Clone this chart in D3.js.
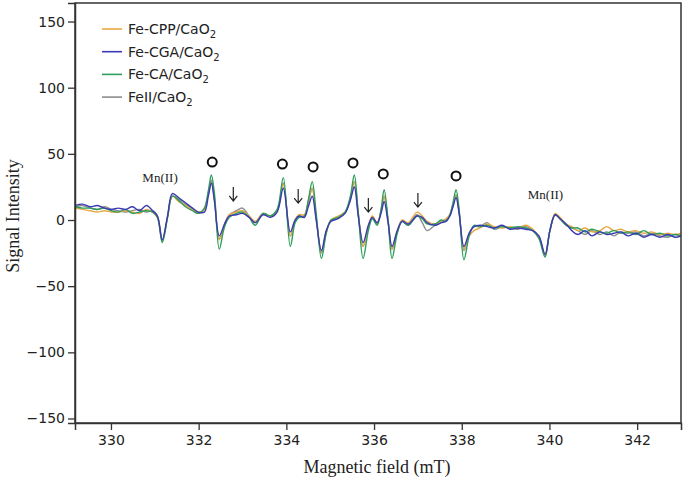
<!DOCTYPE html>
<html>
<head>
<meta charset="utf-8">
<script src="https://cdn.jsdelivr.net/npm/d3@7"></script>
<style>
  body { margin: 0; background: #fff; }
  svg { display: block; }
</style>
</head>
<body>
<div id="chart"></div>
<script>
// magnetic field (mT)
const field = [
  329.19, 329.35, 329.53, 329.69, 329.85, 330.01, 330.17, 330.33, 330.49, 330.65, 330.81, 330.95,
  331.06, 331.17, 331.29, 331.40, 331.54, 331.70, 331.86, 331.99, 332.13, 332.22, 332.29, 332.36,
  332.47, 332.59, 332.70, 332.86, 333.00, 333.15, 333.29, 333.47, 333.63, 333.79, 333.93, 334.09,
  334.20, 334.29, 334.41, 334.50, 334.59, 334.68, 334.80, 334.91, 335.02, 335.18, 335.34, 335.46,
  335.55, 335.64, 335.75, 335.87, 335.96, 336.07, 336.16, 336.23, 336.32, 336.41, 336.53, 336.64,
  336.78, 336.98, 337.10, 337.21, 337.39, 337.53, 337.64, 337.73, 337.80, 337.87, 337.94, 338.05,
  338.17, 338.28, 338.42, 338.58, 338.74, 338.92, 339.10, 339.28, 339.46, 339.62, 339.76, 339.90,
  340.01, 340.13, 340.24, 340.38, 340.51, 340.65, 340.81, 340.97, 341.15, 341.31, 341.47, 341.63,
  341.79, 341.97, 342.15, 342.33, 342.52, 342.70, 342.86, 343.00
];

// signal intensity of each sample
const feCPP = [
  9, 8, 7, 6, 7, 6, 6, 7, 6, 5, 8, 6,
  2, -15, 2, 18, 14, 11, 8, 6, 8, 20, 28, 16,
  -15, -3, 4, 6, 7, 3, -1, 5, 3, 7, 27, -12,
  0, 4, 4, 14, 24, 2, -24, -9, 0, 3, 6, 16,
  29, 5, -20, -5, 3, -2, 7, 18, -1, -22, -8, 0,
  -2, 6, 3, -1, -3, -1, 1, 4, 12, 18, 6, -22,
  -12, -8, -6, -3, -5, -6, -5, -6, -4, -7, -13, -26,
  -8, 5, 2, -3, -5, -8, -6, -9, -8, -5, -8, -7,
  -9, -8, -10, -9, -11, -10, -11, -10
];
const feCGA = [
  11, 12, 10, 11, 9, 8, 9, 8, 10, 7, 11, 7,
  3, -15, 3, 20, 17, 13, 9, 6, 6, 18, 28, 14,
  -12, -3, 3, 4, 5, 2, -2, 4, 2, 6, 24, -9,
  0, 3, 2, 10, 18, 0, -23, -8, -1, 1, 5, 15,
  25, 3, -17, -4, 2, -2, 5, 14, -2, -20, -8, -1,
  -3, 3, 2, -2, -4, -2, -1, 3, 10, 17, 5, -20,
  -10, -5, -4, -5, -6, -4, -7, -6, -7, -8, -12, -26,
  -8, 4, 1, -3, -8, -11, -8, -12, -9, -11, -10, -9,
  -12, -10, -13, -11, -13, -11, -13, -12
];
const feCA = [
  10, 9, 9, 8, 9, 7, 6, 8, 5, 6, 7, 6,
  2, -17, 2, 18, 15, 10, 7, 5, 9, 22, 34, 20,
  -22, -5, 2, 5, 6, 2, -4, 5, 3, 8, 32, -20,
  -2, 2, 3, 15, 29, 5, -29, -10, 0, 2, 6, 18,
  34, 5, -29, -8, 1, -4, 8, 23, 0, -29, -10, -1,
  -4, 3, 1, -3, -3, 0, -1, 4, 13, 23, 8, -30,
  -12, -4, -5, -4, -6, -5, -6, -5, -6, -8, -14, -28,
  -8, 4, 1, -4, -6, -6, -9, -7, -9, -10, -8, -10,
  -9, -11, -8, -11, -10, -12, -11, -12
];
const feII = [
  10, 11, 9, 8, 10, 8, 7, 6, 7, 8, 6, 7,
  3, -16, 2, 18, 16, 12, 8, 5, 8, 20, 30, 16,
  -14, -5, 4, 7, 9, 3, -2, 5, 3, 7, 28, -12,
  0, 3, 3, 13, 24, 2, -25, -9, 0, 2, 6, 16,
  29, 5, -20, -6, 2, -3, 7, 18, 0, -22, -9, -1,
  -4, 4, -2, -8, -4, -2, 0, 4, 11, 19, 6, -23,
  -10, -5, -5, -2, -7, -5, -6, -7, -5, -8, -13, -27,
  -8, 4, 1, -4, -6, -8, -11, -8, -11, -9, -12, -9,
  -10, -9, -12, -10, -12, -13, -11, -12
];

const xTicks = [330, 332, 334, 336, 338, 340, 342];
const yTicks = [-150, -100, -50, 0, 50, 100, 150];

// annotations (field, intensity)
const mnLabels = [[331.12, 28.7], [339.91, 15.9]];
const circles = [[332.31, 43.8], [333.91, 42.3], [334.61, 40.1], [335.52, 43.1], [336.21, 34.8], [337.87, 33.3]];
const arrows = [[332.79, 25, 14.4], [334.27, 23.4, 12.8], [335.87, 16.6, 6], [337.0, 20.4, 9.8]];

const series = [
  { name: "FeII", values: feII, color: "#8c8c8c" },
  { name: "Fe-CPP", values: feCPP, color: "#e8a845" },
  { name: "Fe-CA", values: feCA, color: "#2f9e5c" },
  { name: "Fe-CGA", values: feCGA, color: "#3a3ab4" }
];
const legendOrder = ["Fe-CPP", "Fe-CGA", "Fe-CA", "FeII"];

const width = 685;
const height = 485;
const margin = { top: 3, right: 4, bottom: 62, left: 75 };

const svg = d3
  .select("#chart")
  .append("svg")
  .attr("width", width)
  .attr("height", height);

const x = d3
  .scaleLinear()
  .domain([329.18, 343.0])
  .range([margin.left, width - margin.right]);

const y = d3
  .scaleLinear()
  .domain([-153.4, 164])
  .range([height - margin.bottom, margin.top]);

svg
  .append("clipPath")
  .attr("id", "plot")
  .append("rect")
  .attr("x", margin.left)
  .attr("y", margin.top)
  .attr("width", width - margin.left - margin.right)
  .attr("height", height - margin.top - margin.bottom);

// spectra
const line = d3
  .line()
  .x((d, i) => x(field[i]))
  .y(d => y(d))
  .curve(d3.curveCatmullRom.alpha(0.5));

svg
  .append("g")
  .attr("clip-path", "url(#plot)")
  .selectAll("path")
  .data(series)
  .enter()
  .append("path")
  .attr("d", d => line(d.values))
  .attr("fill", "none")
  .attr("stroke", d => d.color)
  .attr("stroke-width", 1.4);

// frame
svg
  .append("rect")
  .attr("x", margin.left)
  .attr("y", margin.top)
  .attr("width", width - margin.left - margin.right)
  .attr("height", height - margin.top - margin.bottom)
  .attr("fill", "none")
  .attr("stroke", "#333")
  .attr("stroke-width", 1.5);

const xAxis = svg
  .append("g")
  .attr("transform", `translate(0,${height - margin.bottom})`)
  .call(d3.axisBottom(x).tickValues(xTicks).tickSize(7).tickPadding(5));

const yAxis = svg
  .append("g")
  .attr("transform", `translate(${margin.left},0)`)
  .call(d3.axisLeft(y).tickValues(yTicks).tickSize(7).tickPadding(3));

[xAxis, yAxis].forEach(a => {
  a.select(".domain").attr("stroke", "#333").attr("stroke-width", 1.5);
  a.selectAll(".tick line").attr("stroke", "#333").attr("stroke-width", 1.3);
  a.selectAll(".tick text")
    .attr("font-family", "'DejaVu Sans', Verdana, sans-serif")
    .attr("font-size", "14px")
    .attr("fill", "#222");
});

// axis titles
svg
  .append("text")
  .attr("x", 377)
  .attr("y", 473)
  .attr("text-anchor", "middle")
  .attr("font-family", "'Liberation Serif', 'Times New Roman', serif")
  .attr("font-size", "18px")
  .attr("fill", "#222")
  .text("Magnetic field (mT)");

svg
  .append("text")
  .attr("transform", "translate(19,216) rotate(-90)")
  .attr("text-anchor", "middle")
  .attr("font-family", "'Liberation Serif', 'Times New Roman', serif")
  .attr("font-size", "18px")
  .attr("fill", "#222")
  .text("Signal Intensity");

// legend
const legend = svg
  .append("g")
  .selectAll("g")
  .data(legendOrder.map(n => series.find(s => s.name === n)))
  .enter()
  .append("g")
  .attr("transform", (d, i) => `translate(102,${29 + i * 22.7})`);

legend
  .append("line")
  .attr("x1", 0)
  .attr("x2", 20)
  .attr("stroke", d => d.color)
  .attr("stroke-width", 1.6);

const legendText = legend
  .append("text")
  .attr("x", 26)
  .attr("y", 5)
  .attr("font-family", "'DejaVu Sans', Verdana, sans-serif")
  .attr("font-size", "14px")
  .attr("fill", "#222");

legendText.append("tspan").text(d => d.name + "/CaO");
legendText.append("tspan").attr("dy", 4).attr("font-size", "10px").text("2");

// annotations
svg
  .selectAll(".mn")
  .data(mnLabels)
  .enter()
  .append("text")
  .attr("class", "mn")
  .attr("x", d => x(d[0]))
  .attr("y", d => y(d[1]))
  .attr("text-anchor", "middle")
  .attr("font-family", "'Liberation Serif', 'Times New Roman', serif")
  .attr("font-size", "13px")
  .attr("fill", "#222")
  .text("Mn(II)");

svg
  .selectAll(".mark")
  .data(circles)
  .enter()
  .append("circle")
  .attr("class", "mark")
  .attr("cx", d => x(d[0]))
  .attr("cy", d => y(d[1]))
  .attr("r", 4.5)
  .attr("fill", "none")
  .attr("stroke", "#111")
  .attr("stroke-width", 2);

svg
  .selectAll(".arrow")
  .data(arrows)
  .enter()
  .append("path")
  .attr("class", "arrow")
  .attr("d", d => {
    const ax = x(d[0]);
    const top = y(d[1]);
    const bottom = y(d[2]);
    return `M${ax},${top}L${ax},${bottom}M${ax - 4},${bottom - 5}L${ax},${bottom}L${ax + 4},${bottom - 5}`;
  })
  .attr("fill", "none")
  .attr("stroke", "#222")
  .attr("stroke-width", 1.2);
</script>
</body>
</html>
